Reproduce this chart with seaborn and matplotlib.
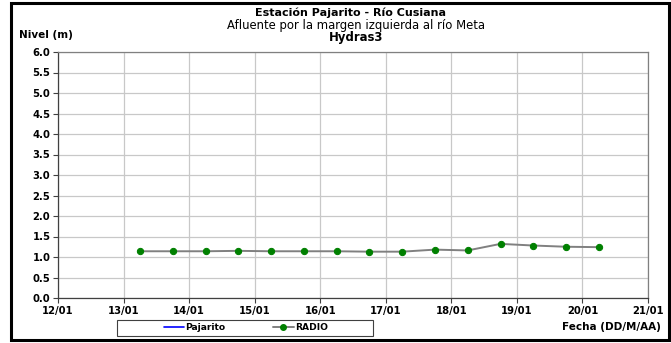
import numpy as np
import pandas as pd
import matplotlib
matplotlib.use("Agg")
import matplotlib.pyplot as plt
import matplotlib.dates as mdates
from matplotlib.patches import Rectangle
from matplotlib.lines import Line2D
import seaborn as sns

# datos
fechas = ["2001-01-13 06:00", "2001-01-13 18:00", "2001-01-14 06:00", "2001-01-14 18:00",
          "2001-01-15 06:00", "2001-01-15 18:00", "2001-01-16 06:00", "2001-01-16 18:00",
          "2001-01-17 06:00", "2001-01-17 18:00", "2001-01-18 06:00", "2001-01-18 18:00",
          "2001-01-19 06:00", "2001-01-19 18:00", "2001-01-20 06:00"]
radio = [1.14, 1.14, 1.14, 1.15, 1.14, 1.14, 1.14, 1.13, 1.13, 1.18, 1.16, 1.32, 1.28, 1.25, 1.24]

df = pd.DataFrame({"fecha": pd.to_datetime(fechas), "nivel": radio})

sns.set_style("white")
plt.rcParams['font.family'] = ['DejaVu Sans']
plt.rcParams['text.color'] = 'black'

fig = plt.figure(figsize=(6.71, 3.43), dpi=100)
ax = fig.add_axes([58 / 671, 1 - 298 / 343, 590 / 671, 246 / 343])

sns.lineplot(data=df, x="fecha", y="nivel", ax=ax, color="#808080", lw=1.4,
             marker="o", markersize=4.5, markerfacecolor="#008000",
             markeredgecolor="#008000")

ax.set_xlim(pd.Timestamp("2001-01-12"), pd.Timestamp("2001-01-21"))
ax.set_ylim(0, 6)
ax.set_yticks(np.arange(0, 6.01, 0.5))
ax.yaxis.set_major_formatter(matplotlib.ticker.FormatStrFormatter("%.1f"))
ax.xaxis.set_major_locator(mdates.DayLocator())
ax.xaxis.set_major_formatter(mdates.DateFormatter("%d/%m"))
ax.grid(True, color="#c8c8c8", lw=0.9)
ax.tick_params(axis="both", labelsize=7.2, length=3.5, width=0.8, direction="out",
               bottom=True, left=True, colors="#404040", labelcolor="black", pad=2)
for lab in ax.get_xticklabels() + ax.get_yticklabels():
    lab.set_fontweight("bold")
for s in ax.spines.values():
    s.set_color("#808080")
    s.set_linewidth(0.9)
ax.spines["left"].set_color("#404040")
ax.spines["bottom"].set_color("#404040")
ax.set_xlabel("")
ax.set_ylabel("")

fig.text(351 / 671, 1 - 13 / 343, "Estación Pajarito - Río Cusiana", ha="center", va="center",
         fontsize=8, fontweight="bold")
fig.text(356 / 671, 1 - 26 / 343, "Afluente por la margen izquierda al río Meta", ha="center",
         va="center", fontsize=8.4)
fig.text(356 / 671, 1 - 38 / 343, "Hydras3", ha="center", va="center", fontsize=8.4,
         fontweight="bold")
fig.text(19 / 671, 1 - 35 / 343, "Nivel (m)", ha="left", va="center", fontsize=7.5,
         fontweight="bold")
fig.text(661 / 671, 1 - 327 / 343, "Fecha (DD/M/AA)", ha="right", va="center", fontsize=7.5,
         fontweight="bold")

# recuadro de la leyenda
fig.patches.append(Rectangle((117 / 671, 1 - 336 / 343), 256 / 671, 16 / 343,
                             transform=fig.transFigure, fill=False, edgecolor="#404040", lw=0.8))
handles = [Line2D([], [], color="blue", lw=1.2),
           Line2D([], [], color="#808080", lw=1.4, marker="o", markersize=4,
                  markerfacecolor="#008000", markeredgecolor="#008000")]
leg = fig.legend(handles, ["Pajarito", "RADIO"], loc="center", ncol=2,
                 bbox_to_anchor=(246 / 671, 1 - 328 / 343),
                 prop={"weight": "bold", "size": 6.6}, frameon=False,
                 handlelength=2.2, columnspacing=5.2, borderpad=0.2, handletextpad=0.2)

fig.patches.append(Rectangle((11 / 671, 3 / 343), 658 / 671, 337 / 343, transform=fig.transFigure,
                             fill=False, edgecolor="black", lw=2.2))

fig.savefig("out.png", dpi=100)
